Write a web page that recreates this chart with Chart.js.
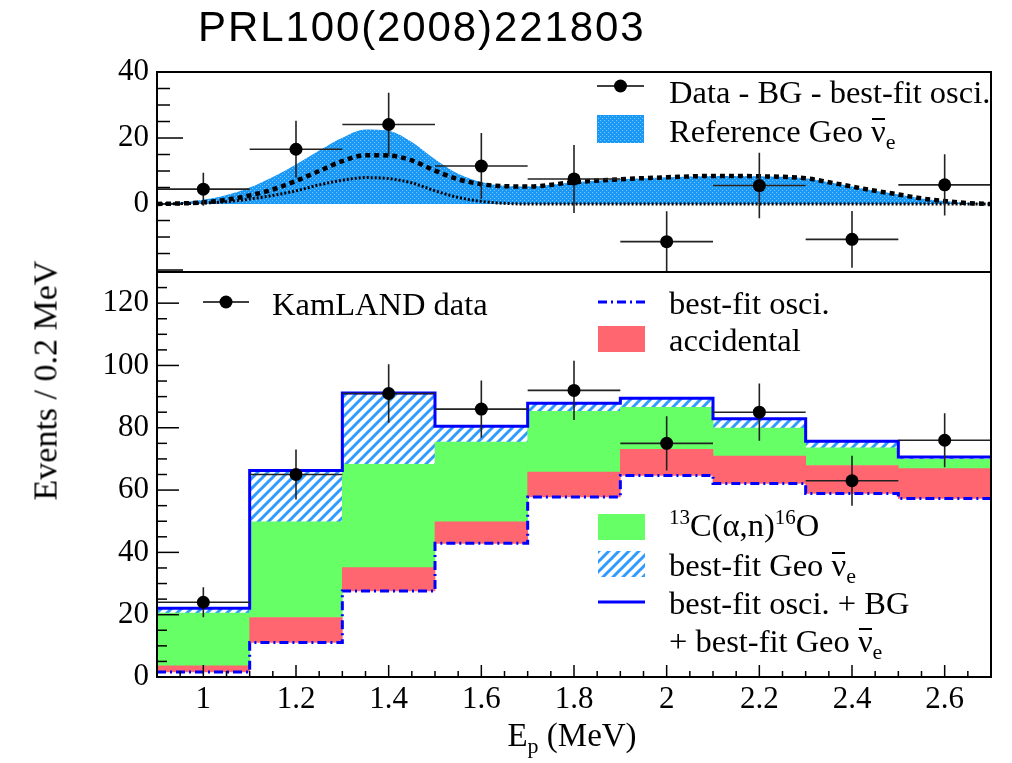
<!DOCTYPE html>
<html><head><meta charset="utf-8">
<script src="https://cdn.jsdelivr.net/npm/chart.js@4.4.1/dist/chart.umd.min.js"></script>
<style>
html,body{margin:0;padding:0;background:#fff;}
#wrap{position:relative;width:1012px;height:763px;overflow:hidden;font-family:'Liberation Serif','Times New Roman',serif;color:#000;}
canvas{position:absolute;left:0;top:0;}
#cUpper{z-index:2;}
#cLower{z-index:1;}
.t{position:absolute;white-space:nowrap;font-size:32.5px;line-height:33px;z-index:3;}
.sub{position:relative;top:7px;font-size:22px;}
.sup{position:relative;top:-12px;font-size:21px;}
.nb{position:relative;}
.nb::after{content:'';position:absolute;left:1px;right:1px;top:5px;border-top:2px solid #000;}
#title{position:absolute;left:198px;top:6px;font-family:'Liberation Sans',Arial,sans-serif;font-size:42px;line-height:42px;letter-spacing:1.9px;white-space:nowrap;z-index:3;}
#ytitle{position:absolute;left:-155px;top:364px;width:400px;text-align:center;font-size:34px;line-height:33px;transform:rotate(-90deg);transform-origin:50% 50%;white-space:nowrap;z-index:3;}
#xtitle{position:absolute;left:272px;top:719px;width:600px;text-align:center;font-size:33px;line-height:33px;white-space:nowrap;z-index:3;}
</style></head>
<body>
<div id="wrap">
  <canvas id="cLower" width="1012" height="763"></canvas>
  <canvas id="cUpper" width="1012" height="763"></canvas>
  <div id="title">PRL100(2008)221803</div>
  <div id="ytitle">Events / 0.2 MeV</div>
  <div id="xtitle">E<span class="sub">p</span> (MeV)</div>
  <div class="t" style="left:669px;top:76px;">Data - BG - best-fit osci.</div>
  <div class="t" style="left:669px;top:115px;">Reference Geo <span class="nb">ν</span><span class="sub">e</span></div>
  <div class="t" style="left:272px;top:288px;">KamLAND data</div>
  <div class="t" style="left:669px;top:287px;">best-fit osci.</div>
  <div class="t" style="left:669px;top:324px;">accidental</div>
  <div class="t" style="left:669px;top:509px;"><span class="sup">13</span>C(α,n)<span class="sup">16</span>O</div>
  <div class="t" style="left:669px;top:549px;">best-fit Geo <span class="nb">ν</span><span class="sub">e</span></div>
  <div class="t" style="left:669px;top:587px;">best-fit osci. + BG</div>
  <div class="t" style="left:669px;top:625px;">+ best-fit Geo <span class="nb">ν</span><span class="sub">e</span></div>
</div>
<script>
// ---------------- data ----------------
const binCenters   = [1.0, 1.2, 1.4, 1.6, 1.8, 2.0, 2.2, 2.4, 2.6];
const binEdges     = [0.9, 1.1, 1.3, 1.5, 1.7, 1.9, 2.1, 2.3, 2.5, 2.7];

// lower panel
const kamlandData  = [24, 65, 91, 86, 92, 75, 85, 63, 76];
const kamlandErr   = [4.8, 8.0, 9.4, 9.2, 9.5, 8.7, 9.2, 8.0, 8.7];
const bestFitOsci  = [1.6, 11.1, 27.6, 42.9, 57.8, 64.7, 62.1, 58.9, 57.3];
const accidental   = [2.0, 8.0, 7.5, 6.9, 8.0, 8.4, 8.8, 9.0, 9.6];
const c13alphaN    = [16.9, 30.7, 33.2, 25.6, 19.5, 13.5, 9.0, 5.7, 3.0];
const bestFitGeo   = [1.6, 16.5, 22.9, 5.1, 2.6, 2.9, 3.0, 2.1, 0.7];

// upper panel
const residualData = [4.5, 16.6, 24.1, 11.5, 7.6, -11.4, 5.6, -10.7, 5.8];
const residualErr  = [5.0, 8.6, 9.6, 10.0, 10.3, 9.2, 9.9, 8.6, 9.3];
const geoE         = [0.9, 1.0, 1.05, 1.1, 1.15, 1.2, 1.25, 1.3, 1.35, 1.4, 1.45, 1.5, 1.55, 1.6, 1.65, 1.7, 1.8, 1.9, 2.0, 2.1, 2.2, 2.3, 2.35, 2.4, 2.45, 2.5, 2.55, 2.6, 2.65, 2.7];
const geoRefTotal  = [0, 1.3, 2.7, 5.0, 8.2, 12.0, 16.2, 20.1, 22.6, 22.2, 18.8, 13.6, 9.2, 6.7, 5.5, 5.3, 6.6, 7.5, 8.1, 8.5, 8.4, 7.8, 6.6, 5.3, 4.0, 2.9, 1.7, 0.9, 0.3, 0];
const geoRefU      = [0, 0.5, 1.3, 2.6, 4.4, 7.0, 10.0, 13.0, 14.8, 14.7, 13.2, 10.1, 7.5, 6.0, 5.4, 5.3, 6.6, 7.5, 8.1, 8.5, 8.4, 7.8, 6.6, 5.3, 4.0, 2.9, 1.7, 0.9, 0.3, 0];
const geoRefTh     = [0, 0.3, 0.7, 1.5, 2.6, 4.0, 5.8, 7.2, 8.0, 7.7, 6.4, 4.0, 2.0, 0.8, 0.2, 0, 0, 0, 0, 0, 0, 0, 0, 0, 0, 0, 0, 0, 0, 0];

// axes
const xTickVals    = [1.0, 1.2, 1.4, 1.6, 1.8, 2.0, 2.2, 2.4, 2.6];
const xTickLabels  = ['1', '1.2', '1.4', '1.6', '1.8', '2', '2.2', '2.4', '2.6'];
const yTicksUpper  = [0, 20, 40];
const yTicksLower  = [0, 20, 40, 60, 80, 100, 120];

// ---------------- helpers ----------------
const BLUE = '#0000ff', GREEN = '#66ff66', RED = '#ff6670';
function makeHatch() {
  const c = document.createElement('canvas'); c.width = 10; c.height = 10;
  const g = c.getContext('2d');
  g.fillStyle = '#fff'; g.fillRect(0, 0, 10, 10);
  g.strokeStyle = '#2f9bff'; g.lineWidth = 3; g.beginPath();
  g.moveTo(-2, 12); g.lineTo(12, -2);
  g.moveTo(-2, 2); g.lineTo(2, -2);
  g.moveTo(8, 12); g.lineTo(12, 8);
  g.stroke();
  return g.createPattern(c, 'repeat');
}
function makeDots() {
  const c = document.createElement('canvas'); c.width = 4; c.height = 4;
  const g = c.getContext('2d');
  g.fillStyle = '#1a98f6'; g.fillRect(0, 0, 4, 4);
  g.fillStyle = 'rgba(255,255,255,0.45)';
  g.fillRect(0, 0, 1, 1); g.fillRect(2, 2, 1, 1);
  return g.createPattern(c, 'repeat');
}
const HATCH = makeHatch(), DOTS = makeDots();

const add = (a, b) => a.map((v, i) => v + b[i]);
const lvlOsci = bestFitOsci;
const lvlAcc  = add(lvlOsci, accidental);
const lvlC13  = add(lvlAcc, c13alphaN);
const lvlTot  = add(lvlC13, bestFitGeo);

const stepData = lv => binEdges.map((e, i) => ({ x: e, y: lv[Math.min(i, lv.length - 1)] }));
const rangeData = (lo, hi) => binCenters.map((x, i) => ({ x, y: [lo[i], hi[i]] }));
function vSegs(ys, err) {
  const out = [];
  binCenters.forEach((x, i) => { out.push({ x, y: ys[i] - err[i] }, { x, y: ys[i] + err[i] }, { x, y: null }); });
  return out;
}
function hSegs(ys) {
  const out = [];
  binCenters.forEach((x, i) => { out.push({ x: binEdges[i], y: ys[i] }, { x: binEdges[i + 1], y: ys[i] }, { x: binEdges[i + 1], y: null }); });
  return out;
}
const pts = ys => binCenters.map((x, i) => ({ x, y: ys[i] }));

// ---------------- plugins ----------------
const frameTicks = {
  id: 'frameTicks',
  afterDatasetsDraw(chart, args, o) {
    const { ctx, chartArea: a, scales } = chart;
    const ys = scales.y, xs = scales.x;
    ctx.save();
    ctx.strokeStyle = '#000'; ctx.lineWidth = 1.5;
    const start = Math.ceil(ys.min / o.yMinor - 1e-9) * o.yMinor;
    for (let v = start; v <= ys.max + 1e-9; v += o.yMinor) {
      const p = ys.getPixelForValue(v);
      const r = v / o.yMajor, major = Math.abs(r - Math.round(r)) < 1e-6;
      const len = major ? o.yMajLen : o.yMinLen;
      ctx.beginPath(); ctx.moveTo(a.left, p); ctx.lineTo(a.left + len, p); ctx.stroke();
    }
    if (o.xTicks) {
      for (let k = 0; ; k++) {
        const v = xs.min + k * o.xMinor;
        if (v > xs.max + 1e-9) break;
        const p = xs.getPixelForValue(v);
        const major = xTickVals.some(t => Math.abs(t - v) < 1e-6);
        const len = major ? 12 : 6;
        ctx.beginPath(); ctx.moveTo(p, a.bottom); ctx.lineTo(p, a.bottom - len); ctx.stroke();
      }
    }
    ctx.lineWidth = 2;
    ctx.strokeRect(a.left, a.top, a.right - a.left, a.bottom - a.top);
    ctx.restore();
  }
};
const legendSymbols = {
  id: 'legendSymbols',
  afterDraw(chart, args, o) {
    const ctx = chart.ctx;
    ctx.save();
    (o.items || []).forEach(it => {
      if (it.kind === 'marker') {
        ctx.strokeStyle = '#000'; ctx.lineWidth = 1.6; ctx.setLineDash([]);
        ctx.beginPath(); ctx.moveTo(it.x1, it.y); ctx.lineTo(it.x2, it.y); ctx.stroke();
        ctx.fillStyle = '#000'; ctx.beginPath(); ctx.arc((it.x1 + it.x2) / 2, it.y, 6.5, 0, Math.PI * 2); ctx.fill();
      } else if (it.kind === 'line') {
        ctx.strokeStyle = it.color; ctx.lineWidth = 3; ctx.setLineDash(it.dash || []);
        ctx.beginPath(); ctx.moveTo(it.x1, it.y); ctx.lineTo(it.x2, it.y); ctx.stroke();
        ctx.setLineDash([]);
      } else if (it.kind === 'patch') {
        ctx.fillStyle = it.fill; ctx.fillRect(it.x, it.y, it.w, it.h);
      }
    });
    ctx.restore();
  }
};

const tickFont = { family: 'Liberation Serif', size: 31 };
const baseOpts = (padTop, padBottom) => ({
  responsive: false, animation: false, devicePixelRatio: 1, events: [],
  layout: { padding: { left: 0, right: 21, top: padTop, bottom: padBottom } },
});

// ---------------- lower chart ----------------
new Chart(document.getElementById('cLower'), {
  type: 'bar',
  data: {
    datasets: [
      { type: 'bar', data: rangeData(lvlC13, lvlTot), backgroundColor: HATCH, borderWidth: 0, grouped: false, barPercentage: 1, categoryPercentage: 1, order: 10 },
      { type: 'bar', data: rangeData(lvlAcc, lvlC13), backgroundColor: GREEN, borderWidth: 0, grouped: false, barPercentage: 1, categoryPercentage: 1, order: 9 },
      { type: 'bar', data: rangeData(lvlOsci, lvlAcc), backgroundColor: RED, borderWidth: 0, grouped: false, barPercentage: 1, categoryPercentage: 1, order: 8 },
      { type: 'line', data: stepData(lvlOsci), stepped: true, borderColor: BLUE, borderWidth: 3, borderDash: [9, 4, 2, 4], pointRadius: 0, fill: false, order: 7 },
      { type: 'line', data: stepData(lvlTot), stepped: true, borderColor: BLUE, borderWidth: 3, pointRadius: 0, fill: false, order: 6 },
      { type: 'line', data: hSegs(kamlandData), borderColor: '#222', borderWidth: 1.6, pointRadius: 0, fill: false, spanGaps: false, order: 5 },
      { type: 'line', data: vSegs(kamlandData, kamlandErr), borderColor: '#222', borderWidth: 1.6, pointRadius: 0, fill: false, spanGaps: false, order: 4 },
      { type: 'line', data: pts(kamlandData), showLine: false, pointRadius: 6.5, pointBackgroundColor: '#000', pointBorderWidth: 0, order: 3 }
    ]
  },
  options: Object.assign(baseOpts(272, 0), {
    plugins: {
      legend: { display: false }, tooltip: { enabled: false },
      frameTicks: { yMajor: 20, yMinor: 5, yMajLen: 22, yMinLen: 10, xTicks: true, xMinor: 0.05 },
      legendSymbols: { items: [
        { kind: 'marker', x1: 203, x2: 249, y: 302 },
        { kind: 'line', x1: 598, x2: 645, y: 302, color: BLUE, dash: [9, 4, 2, 4] },
        { kind: 'patch', x: 598, y: 326, w: 47, h: 26, fill: RED },
        { kind: 'patch', x: 598, y: 514, w: 47, h: 26, fill: GREEN },
        { kind: 'patch', x: 598, y: 551, w: 47, h: 26, fill: HATCH },
        { kind: 'line', x1: 598, x2: 645, y: 602, color: BLUE }
      ] }
    },
    scales: {
      x: { type: 'linear', min: 0.9, max: 2.7, offset: false,
        grid: { display: false, drawTicks: false }, border: { display: false },
        afterBuildTicks: s => { s.ticks = xTickVals.map(v => ({ value: v })); },
        afterFit: s => { s.height = 86; },
        ticks: { callback: (v, i) => xTickLabels[i], font: tickFont, color: '#000', padding: 4, maxRotation: 0, autoSkip: false } },
      y: { type: 'linear', min: 0, max: 130,
        grid: { display: false, drawTicks: false }, border: { display: false },
        afterBuildTicks: s => { s.ticks = yTicksLower.map(v => ({ value: v })); },
        afterFit: s => { s.width = 157; },
        ticks: { font: tickFont, color: '#000', padding: 8, autoSkip: false } }
    }
  }),
  plugins: [frameTicks, legendSymbols]
});

// ---------------- upper chart ----------------
new Chart(document.getElementById('cUpper'), {
  type: 'line',
  data: {
    datasets: [
      { data: geoE.map((x, i) => ({ x, y: geoRefTotal[i] })), fill: 'origin', backgroundColor: DOTS, borderWidth: 0, borderColor: 'rgba(0,0,0,0)', pointRadius: 0, cubicInterpolationMode: 'monotone', order: 10 },
      { data: geoE.map((x, i) => ({ x, y: geoRefTh[i] })), fill: false, borderColor: '#000', borderWidth: 3, borderDash: [2, 2], pointRadius: 0, cubicInterpolationMode: 'monotone', order: 9 },
      { data: geoE.map((x, i) => ({ x, y: geoRefU[i] })), fill: false, borderColor: '#000', borderWidth: 4.5, borderDash: [5, 4], pointRadius: 0, cubicInterpolationMode: 'monotone', order: 8 },
      { data: hSegs(residualData), borderColor: '#222', borderWidth: 1.6, pointRadius: 0, fill: false, spanGaps: false, order: 5 },
      { data: vSegs(residualData, residualErr), borderColor: '#222', borderWidth: 1.6, pointRadius: 0, fill: false, spanGaps: false, order: 4 },
      { data: pts(residualData), showLine: false, pointRadius: 6.5, pointBackgroundColor: '#000', pointBorderWidth: 0, order: 3 }
    ]
  },
  options: Object.assign(baseOpts(72, 491), {
    plugins: {
      legend: { display: false }, tooltip: { enabled: false },
      frameTicks: { yMajor: 20, yMinor: 5, yMajLen: 26, yMinLen: 13, xTicks: false },
      legendSymbols: { items: [
        { kind: 'marker', x1: 597, x2: 644, y: 86 },
        { kind: 'patch', x: 597, y: 115, w: 47, h: 28, fill: DOTS }
      ] }
    },
    scales: {
      x: { type: 'linear', min: 0.9, max: 2.7, display: false, offset: false },
      y: { type: 'linear', min: -20.6, max: 40,
        grid: { display: false, drawTicks: false }, border: { display: false },
        afterBuildTicks: s => { s.ticks = yTicksUpper.map(v => ({ value: v })); },
        afterFit: s => { s.width = 157; },
        ticks: { font: tickFont, color: '#000', padding: 8, autoSkip: false } }
    }
  }),
  plugins: [frameTicks, legendSymbols]
});
</script>
</body></html>
